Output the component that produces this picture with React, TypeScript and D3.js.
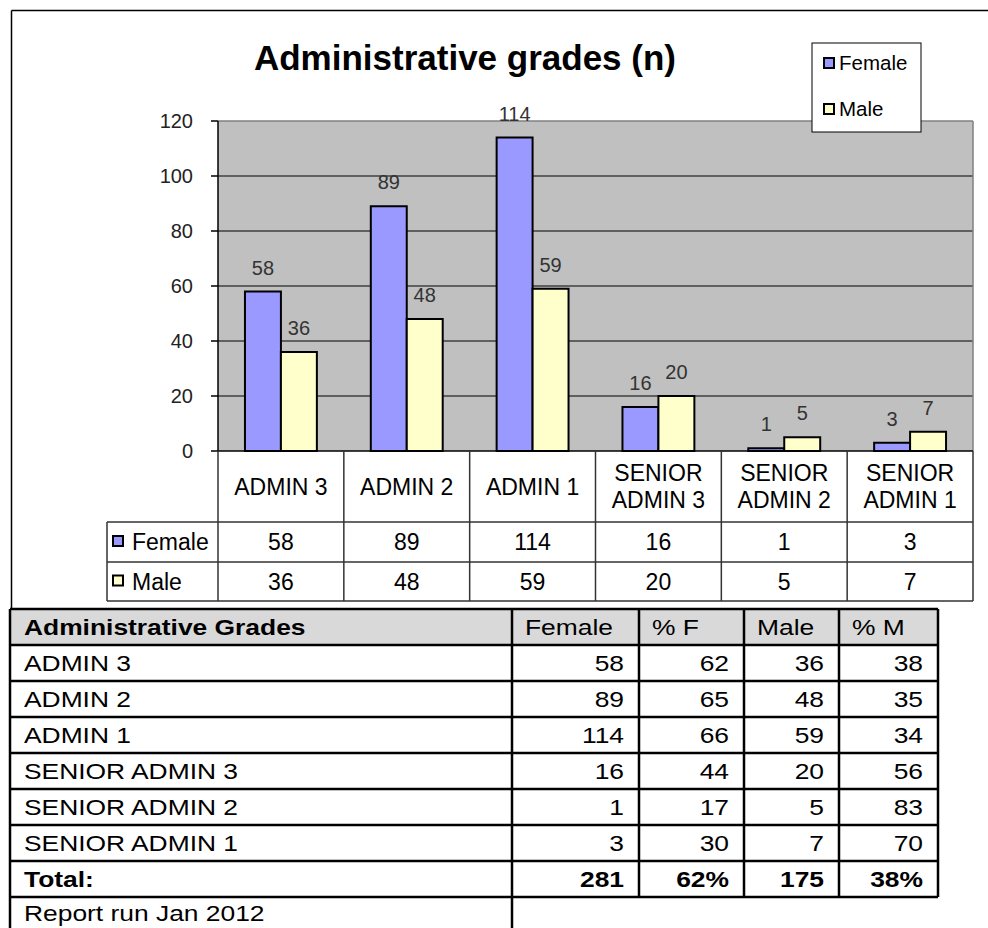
import React from 'react';
import * as d3 from 'd3';

// chart values
const categories = ['ADMIN 3', 'ADMIN 2', 'ADMIN 1', 'SENIOR ADMIN 3', 'SENIOR ADMIN 2', 'SENIOR ADMIN 1'];
const categoryLines = [['ADMIN 3'], ['ADMIN 2'], ['ADMIN 1'], ['SENIOR', 'ADMIN 3'], ['SENIOR', 'ADMIN 2'], ['SENIOR', 'ADMIN 1']];
const series = ['Female', 'Male'];
const female = [58, 89, 114, 16, 1, 3];
const male = [36, 48, 59, 20, 5, 7];
const yTicks = [0, 20, 40, 60, 80, 100, 120];

// table values
const pctF = [62, 65, 66, 44, 17, 30];
const pctM = [38, 35, 34, 56, 83, 70];
const tableHeader = ['Administrative Grades', 'Female', '% F', 'Male', '% M'];
const totals = ['Total:', '281', '62%', '175', '38%'];
const footnote = 'Report run Jan 2012';

const colors: Record<string, string> = { Female: '#9999FF', Male: '#FFFFCC' };
const FONT = '"Liberation Sans", Arial, sans-serif';

export default function App() {
    const W = 988, H = 928;
    const plot = { left: 218, right: 973, top: 121, bottom: 451 };

    const x0 = d3.scaleBand().domain(categories).range([plot.left, plot.right]);
    const x1 = d3.scaleBand().domain(series).range([0, x0.bandwidth()]).paddingOuter(0.75);
    const y = d3.scaleLinear().domain([0, 120]).range([plot.bottom, plot.top]);

    const valuesOf = (s: string) => (s === 'Female' ? female : male);

    // data table under the axis
    const rowLabelBottom = 522, rowFemaleBottom = 562, rowMaleBottom = 601, seriesColLeft = 107;
    const bounds = categories.map((c) => x0(c)!).concat([plot.right]);

    // report table
    const cols = [10, 512, 639, 744, 839, 938];
    const tTop = 609, rowH = 36;
    const bodyRows = categories.map((c, i) => [c, String(female[i]), String(pctF[i]), String(male[i]), String(pctM[i])]);
    const allRows = [tableHeader, ...bodyRows, totals];
    const tBottom = tTop + allRows.length * rowH;

    // the report table text is drawn wider than normal, like the original
    const stretched = (txt: string, x: number, yy: number, anchor: string, bold = false, key?: any) => (
        <text key={key} transform={`translate(${x},${yy}) scale(1.2,1)`} textAnchor={anchor}
              fontWeight={bold ? 'bold' : 'normal'} fontSize={22} fill="#000">{txt}</text>
    );

    return (
        <svg width={W} height={H} style={{ position: 'absolute', left: 0, top: 0, background: '#fff' }} fontFamily={FONT}>
            {/* chart frame */}
            <line x1={11.5} x2={11.5} y1={10.5} y2={tTop} stroke="#000" strokeWidth={1.5} />
            <line x1={11.5} x2={W} y1={10.5} y2={10.5} stroke="#000" strokeWidth={1.5} />

            <text x={465} y={70} textAnchor="middle" fontSize={35} fontWeight="bold">Administrative grades (n)</text>

            {/* plot area */}
            <rect x={plot.left} y={plot.top} width={plot.right - plot.left} height={plot.bottom - plot.top} fill="#C0C0C0" />
            {yTicks.filter((t) => t > 0 && t < 120).map((t) => (
                <line key={t} x1={plot.left} x2={plot.right} y1={y(t)} y2={y(t)} stroke="#000" strokeWidth={1} />
            ))}
            <line x1={plot.left} x2={plot.right} y1={plot.top} y2={plot.top} stroke="#808080" strokeWidth={1.5} />
            <line x1={plot.right} x2={plot.right} y1={plot.top} y2={plot.bottom} stroke="#808080" strokeWidth={1.5} />

            {/* bars */}
            {categories.map((c, i) => (
                <g key={c} transform={`translate(${x0(c)},0)`}>
                    {series.map((s) => {
                        const v = valuesOf(s)[i];
                        return (
                            <g key={s}>
                                <rect x={x1(s)} y={y(v)} width={x1.bandwidth()} height={y(0) - y(v)}
                                      fill={colors[s]} stroke="#000" strokeWidth={2} />
                                <text x={x1(s)! + x1.bandwidth() / 2} y={y(v) - 17} textAnchor="middle"
                                      fontSize={20} fill="#333">{v}</text>
                            </g>
                        );
                    })}
                </g>
            ))}

            {/* y axis */}
            <line x1={plot.left} x2={plot.left} y1={plot.top} y2={plot.bottom} stroke="#000" strokeWidth={1.5} />
            {yTicks.map((t) => (
                <g key={t}>
                    <line x1={plot.left - 7} x2={plot.left} y1={y(t)} y2={y(t)} stroke="#000" strokeWidth={1.5} />
                    <text x={193} y={y(t) + 7} textAnchor="end" fontSize={20} fill="#222">{t}</text>
                </g>
            ))}

            {/* data table */}
            <line x1={plot.left} x2={plot.right} y1={plot.bottom} y2={plot.bottom} stroke="#000" strokeWidth={1.5} />
            {[rowLabelBottom, rowFemaleBottom, rowMaleBottom].map((yy) => (
                <line key={yy} x1={seriesColLeft} x2={plot.right} y1={yy} y2={yy} stroke="#333" strokeWidth={1.5} />
            ))}
            {bounds.map((bx, i) => (
                <line key={i} x1={bx} x2={bx} y1={plot.bottom} y2={rowMaleBottom} stroke="#333" strokeWidth={1.5} />
            ))}
            <line x1={seriesColLeft} x2={seriesColLeft} y1={rowLabelBottom} y2={rowMaleBottom} stroke="#333" strokeWidth={1.5} />
            {categories.map((c, i) => {
                const cx = x0(c)! + x0.bandwidth() / 2;
                const lines = categoryLines[i];
                const mid = (plot.bottom + rowLabelBottom) / 2;
                return (
                    <g key={c}>
                        {lines.map((l, j) => (
                            <text key={j} x={cx} y={mid + 8 + (j - (lines.length - 1) / 2) * 27} textAnchor="middle" fontSize={23}>{l}</text>
                        ))}
                        <text x={cx} y={(rowLabelBottom + rowFemaleBottom) / 2 + 8} textAnchor="middle" fontSize={23}>{female[i]}</text>
                        <text x={cx} y={(rowFemaleBottom + rowMaleBottom) / 2 + 8} textAnchor="middle" fontSize={23}>{male[i]}</text>
                    </g>
                );
            })}
            {series.map((s, j) => {
                const top = j === 0 ? rowLabelBottom : rowFemaleBottom;
                const bot = j === 0 ? rowFemaleBottom : rowMaleBottom;
                const cy = (top + bot) / 2;
                return (
                    <g key={s}>
                        <rect x={113} y={cy - 6} width={10} height={10} fill={colors[s]} stroke="#000" strokeWidth={2} />
                        <text x={132} y={cy + 8} fontSize={23}>{s}</text>
                    </g>
                );
            })}

            {/* legend */}
            <rect x={812} y={43} width={109} height={89} fill="#fff" stroke="#000" strokeWidth={1} />
            {series.map((s, j) => {
                const cy = 63 + j * 46;
                return (
                    <g key={s}>
                        <rect x={824} y={cy - 5} width={10} height={10} fill={colors[s]} stroke="#000" strokeWidth={2} />
                        <text x={839} y={cy + 7} fontSize={20.5}>{s}</text>
                    </g>
                );
            })}

            {/* report table */}
            <rect x={cols[0]} y={tTop} width={cols[5] - cols[0]} height={rowH} fill="#D9D9D9" />
            {allRows.map((row, r) => {
                const base = tTop + r * rowH + rowH / 2 + 8;
                const bold = r === 0 || r === allRows.length - 1;
                return (
                    <g key={r}>
                        {row.map((cell, k) => {
                            if (k === 0) return stretched(cell, cols[0] + 14, base, 'start', bold, k);
                            if (r === 0) return stretched(cell, cols[k] + 13, base, 'start', false, k);
                            return stretched(cell, cols[k + 1] - 15, base, 'end', bold, k);
                        })}
                    </g>
                );
            })}
            {d3.range(allRows.length + 1).map((r) => (
                <line key={r} x1={cols[0]} x2={cols[5]} y1={tTop + r * rowH} y2={tTop + r * rowH} stroke="#000" strokeWidth={2.5} />
            ))}
            {cols.map((cx, k) => (
                <line key={k} x1={cx} x2={cx} y1={tTop} y2={tBottom} stroke="#000" strokeWidth={2.5} />
            ))}
            <line x1={cols[0]} x2={cols[0]} y1={tBottom} y2={H} stroke="#000" strokeWidth={2.5} />
            <line x1={cols[1]} x2={cols[1]} y1={tBottom} y2={H} stroke="#000" strokeWidth={2.5} />
            {stretched(footnote, cols[0] + 14, tBottom + rowH / 2 + 6, 'start')}
        </svg>
    );
}
